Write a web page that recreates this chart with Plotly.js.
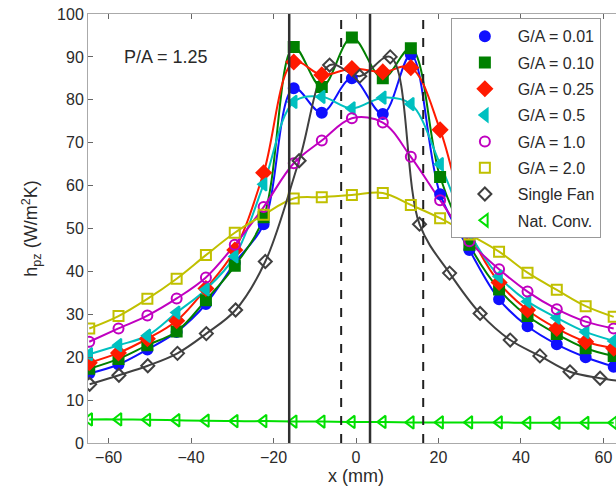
<!DOCTYPE html>
<html>
<head>
<meta charset="utf-8">
<script src="https://cdn.plot.ly/plotly-3.0.1.min.js"></script>
<style>html,body{margin:0;padding:0;overflow:hidden;background:#fff}#chart{width:660px;height:496px}</style>
</head>
<body>
<div id="chart"></div>
<script>
// x positions (mm) of the measurement points
const xGA = [-64.7,-57.6,-50.6,-43.5,-36.4,-29.4,-22.4,-15.1,-8.3,-1,6.5,13.3,20.4,27.5,34.7,41.6,48.7,55.7,62.5];
const xFan = [-64.6,-57.5,-50.5,-43.3,-36.3,-29.2,-22,-13.8,-6.4,0.9,8.3,15.4,22.7,30.1,37.4,44.6,51.9,59.2,66.4];

// h_pz values (W/m^2K)
const ga001 = [16.2,18.3,21.8,25.9,32.4,42,51,82.7,77,85,76.7,90.5,58,45,33.5,27.2,23,20,17.8];
const ga010 = [17.3,19.6,22.8,26,33.3,41.3,52.6,92.3,83,94.5,85,92,62,46.2,35.8,29.6,25.4,22.1,20.3];
const ga025 = [18.7,21,24.3,28.5,36,45,63,88.8,85.8,87.3,86.5,87.5,73,49.5,37.4,31,26.7,23.6,22.1];
const ga05  = [20.7,22.8,25,30.4,35.8,43.5,60.3,79.5,80.7,78,80.5,79,65,49,38.8,33,29.2,25.9,23.8];
const ga10  = [23.6,26.7,29.7,33.7,38.6,46.2,55,65.2,70.5,75.7,74.7,66.7,56.6,47,40.5,35.3,31.2,28.3,26.7];
const ga20  = [26.7,29.6,33.6,38.3,43.8,49,53.2,57,57.3,57.8,58.3,55.5,52.4,48.6,44.6,39.7,35.7,31.9,29.4];
const singleFan = [13.7,15.8,18,20.9,25.5,31,42.3,65.8,88.1,85.5,90,51,39.6,30.2,24,20.3,16.6,15.1,14.2];
const natConv = [5.5,5.5,5.4,5.3,5.2,5.1,5.1,5,5,4.9,4.9,4.8,4.8,4.8,4.8,4.7,4.7,4.7,4.7];

const seriesNames = ['G/A = 0.01','G/A = 0.10','G/A = 0.25','G/A = 0.5','G/A = 1.0','G/A = 2.0','Single Fan','Nat. Conv.'];

// fan edge positions (mm)
const solidEdges = [-16.2, 3.4];
const dashedEdges = [-3.6, 16.3];

const styles = [
  {x:xGA, y:ga001, color:'#1010ff', symbol:'circle', size:10},
  {x:xGA, y:ga010, color:'#008000', symbol:'square', size:10},
  {x:xGA, y:ga025, color:'#ff1a00', symbol:'diamond', size:11},
  {x:xGA, y:ga05,  color:'#00c0c0', symbol:'triangle-left', size:11},
  {x:xGA, y:ga10,  color:'#c000c0', symbol:'circle-open', size:10},
  {x:xGA, y:ga20,  color:'#c0c000', symbol:'square-open', size:10},
  {x:xFan, y:singleFan, color:'#404040', symbol:'diamond-open', size:10},
  {x:xGA, y:natConv, color:'#00e000', symbol:'triangle-left-open', size:11}
];

const traces = [];
styles.forEach((s, i) => {
  traces.push({
    x: s.x, y: s.y, type: 'scatter', mode: 'lines',
    line: {color: s.color, width: 2, shape: 'spline', smoothing: 1},
    showlegend: false, hoverinfo: 'skip'
  });
});
styles.forEach((s, i) => {
  traces.push({
    x: s.x, y: s.y, type: 'scatter', mode: 'markers', name: seriesNames[i],
    legendgroup: 'g' + i,
    marker: {color: s.color, symbol: s.symbol, size: s.size, line: {color: s.color, width: 2}},
    showlegend: true
  });
});

const shapes = [];
solidEdges.forEach(v => shapes.push({type:'line', xref:'x', yref:'paper', x0:v, x1:v, y0:0, y1:1, line:{color:'#303030', width:2.5}}));
dashedEdges.forEach(v => shapes.push({type:'line', xref:'x', yref:'paper', x0:v, x1:v, y0:0, y1:1, line:{color:'#202020', width:2, dash:'dash'}}));

const font = {family:'"Liberation Sans", Arial, sans-serif', color:'#2a2a2a'};

const layout = {
  width: 660, height: 496,
  margin: {l: 88, r: 36, t: 14, b: 53},
  paper_bgcolor: '#fff', plot_bgcolor: '#fff',
  font: Object.assign({size: 15}, font),
  showlegend: true,
  xaxis: {
    range: [-65, 65], tickvals: [-60,-40,-20,0,20,40,60],
    ticks: 'inside', ticklen: 5, tickcolor: '#666', showgrid: false, zeroline: false,
    showline: true, linecolor: '#aaa', linewidth: 1, mirror: 'ticks',
    tickfont: Object.assign({size: 16}, font),
    title: {text: 'x (mm)', font: Object.assign({size: 18}, font), standoff: 4},
    automargin: false
  },
  yaxis: {
    range: [0, 100], dtick: 10,
    ticks: 'inside', ticklen: 5, tickcolor: '#666', showgrid: false, zeroline: false,
    showline: true, linecolor: '#aaa', linewidth: 1, mirror: 'ticks',
    tickfont: Object.assign({size: 16}, font),
    title: {text: 'h<sub>pz</sub> (W/m<sup>2</sup>K)', font: Object.assign({size: 18}, font), standoff: 14},
    automargin: false
  },
  legend: {
    x: 0.677, y: 0.99, xanchor: 'left', yanchor: 'top',
    bgcolor: '#fff', bordercolor: '#999', borderwidth: 1,
    font: Object.assign({size: 16}, font), itemwidth: 56, tracegroupgap: 2.5
  },
  shapes: shapes,
  annotations: [{
    text: 'P/A = 1.25', xref: 'paper', yref: 'paper', x: 0.063, y: 0.9,
    xanchor: 'left', yanchor: 'middle', showarrow: false,
    font: Object.assign({size: 18}, font)
  }]
};

Plotly.newPlot('chart', traces, layout, {staticPlot: true});
</script>
</body>
</html>
